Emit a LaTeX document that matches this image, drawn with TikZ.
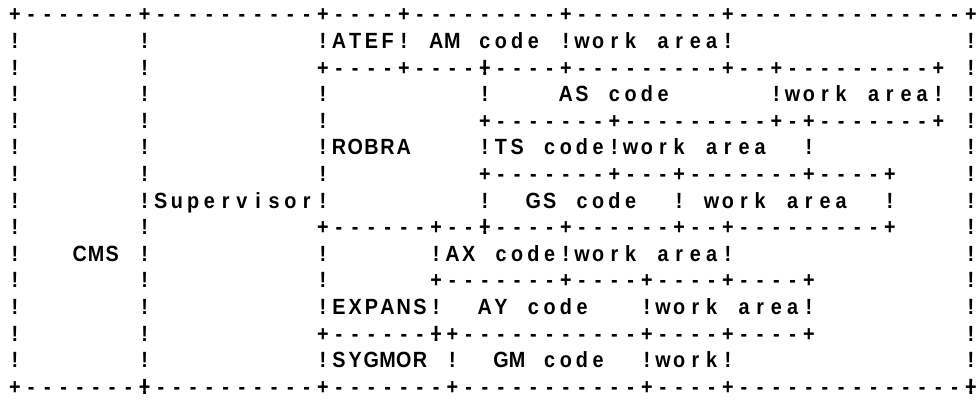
\documentclass[tikz,border=0pt]{standalone}
\usepackage{fontspec}
\setmainfont{Liberation Sans}
\newfontfamily\chfont[FakeStretch=0.9]{Liberation Sans}
\tikzset{
  ch/.style={inner sep=0pt, outer sep=0pt, anchor=base, text=black,
    font=\chfont\bfseries\fontsize{22}{22}\selectfont},
}
\ExplSyntaxOn
\int_new:N \l_ascii_col_int
\cs_new_protected:Npn \ascii_put:nnn #1 #2 #3
  {
    \node[ch] at (\fp_eval:n {15 + 16.2 * #1}, \fp_eval:n {377 - 26.6 * #2}) {#3};
  }
\cs_new_protected:Npn \ascii_row:nn #1 #2
  {
    \int_zero:N \l_ascii_col_int
    \str_map_inline:nn {#2}
      {
        \str_case:nnF {##1}
          {
            {.} { }
            {*} { \ascii_put:nnn {\int_use:N \l_ascii_col_int} {#1} {+}
                  \ascii_put:nnn {\int_use:N \l_ascii_col_int} {#1} {!} }
          }
          { \ascii_put:nnn {\int_use:N \l_ascii_col_int} {#1} {##1} }
        \int_incr:N \l_ascii_col_int
      }
  }
\NewDocumentCommand \asciirow { m m } { \ascii_row:nn {#1} {#2} }
\ExplSyntaxOff
\begin{document}
\begin{tikzpicture}[x=1pt,y=1pt]
\useasboundingbox (0,0) rectangle (979,399);
\fill[white] (0,0) rectangle (979,399);
\asciirow{0}{+-------+----------+----+---------+---------+--------------+}
\asciirow{1}{!.......!..........!ATEF!.AM.code.!work.area!..............!}
\asciirow{2}{!.......!..........+----+----*----+---------+--+---------+.!}
\asciirow{3}{!.......!..........!.........!....AS.code......!work.area!.!}
\asciirow{4}{!.......!..........!.........+-------+---------+-+-------+.!}
\asciirow{5}{!.......!..........!ROBRA....!TS.code!work.area..!.........!}
\asciirow{6}{!.......!..........!.........+-------+---+-------+----+....!}
\asciirow{7}{!.......!Supervisor!.........!..GS.code..!.work.area..!....!}
\asciirow{8}{!.......!..........+------+--*----+------+--+---------+....!}
\asciirow{9}{!...CMS.!..........!......!AX.code!work.area!..............!}
\asciirow{10}{!.......!..........!......+-------+----+----+----+.........!}
\asciirow{11}{!.......!..........!EXPANS!..AY.code...!work.area!.........!}
\asciirow{12}{!.......!..........+------*+-----------+----+----+.........!}
\asciirow{13}{!.......!..........!SYGMOR.!..GM.code..!work!..............!}
\asciirow{14}{+-------*----------+-------+-----------+----+--------------*}
\end{tikzpicture}
\end{document}
